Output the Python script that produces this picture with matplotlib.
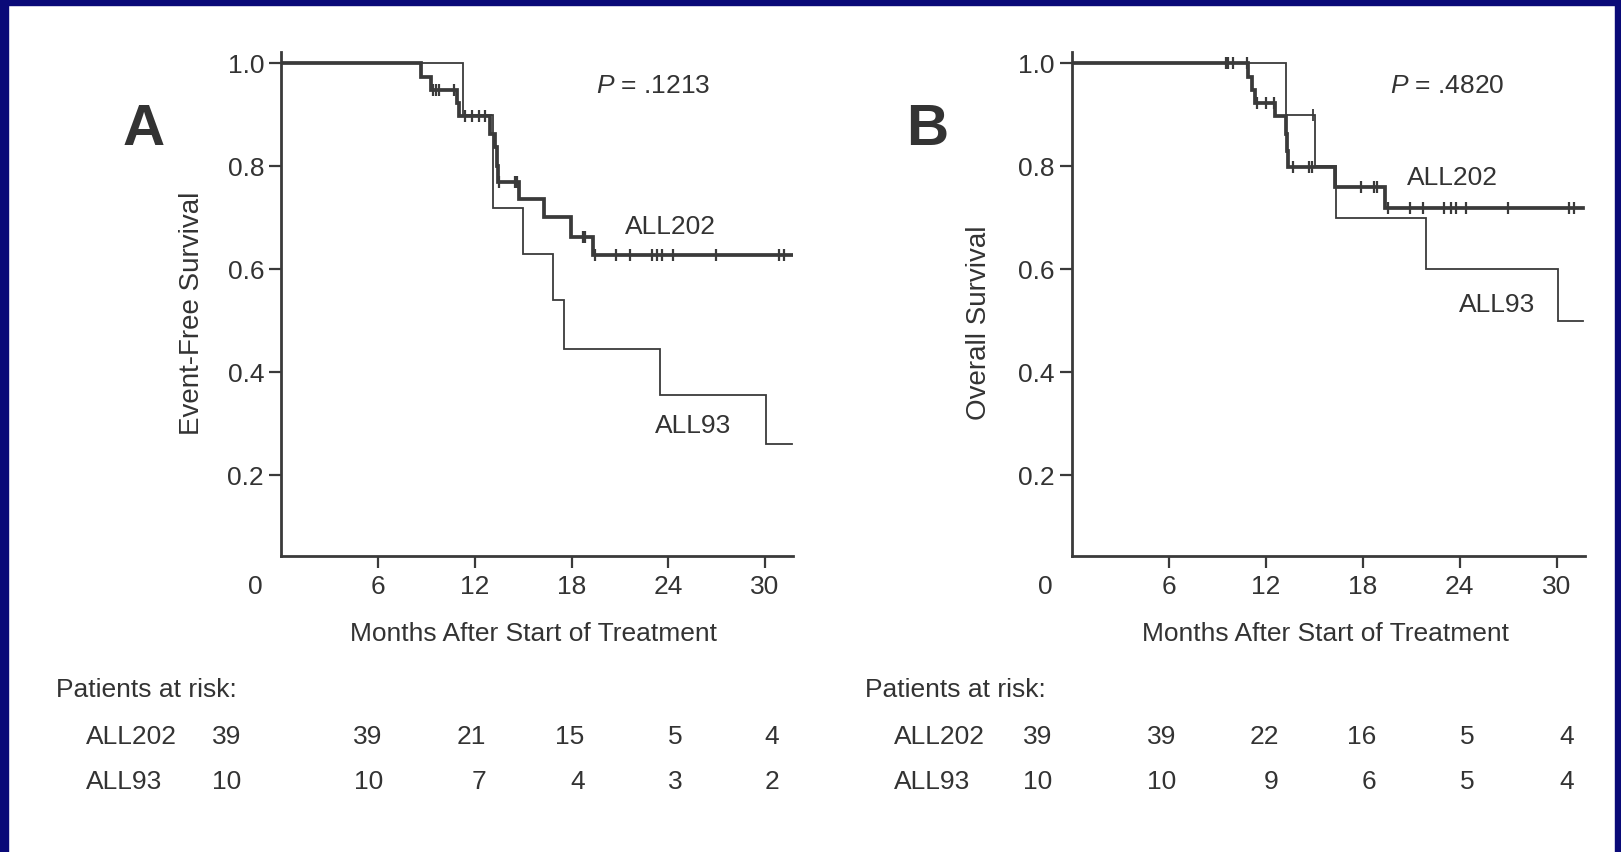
import matplotlib
matplotlib.use('Agg')
import matplotlib.pyplot as plt
from matplotlib.patches import Rectangle

plt.rcParams['font.family'] = ['Liberation Sans', 'DejaVu Sans']
plt.rcParams['mathtext.fontset'] = 'custom'
plt.rcParams['mathtext.it'] = 'Liberation Sans:italic'
plt.rcParams['mathtext.rm'] = 'Liberation Sans'

# ---------------- data ----------------
# Panel A: event-free survival
a202_times = [0, 8.66, 9.28, 10.88, 11.05, 12.93, 13.25, 13.35, 13.45, 14.72, 16.28, 17.98, 19.33]
a202_surv = [1.0, 0.974, 0.949, 0.923, 0.897, 0.862, 0.838, 0.80, 0.77, 0.736, 0.702, 0.663, 0.628]
a202_cens = [9.41, 9.6, 9.81, 10.73, 11.41, 11.84, 12.27, 12.65, 13.5, 14.5, 14.63,
             18.73, 18.86, 19.48, 20.76, 21.61, 23.0, 23.32, 23.6, 24.28, 26.94, 30.85, 31.15]
a93_times = [0, 11.26, 13.14, 15.0, 16.85, 17.54, 23.49, 30.04]
a93_surv = [1.0, 0.9, 0.72, 0.63, 0.54, 0.445, 0.356, 0.26]
a93_cens = []
a_end = 31.65
a_pvalue = "$P$ = .1213"
a_ylabel = "Event-Free Survival"

# Panel B: overall survival
b202_times = [0, 10.9, 11.15, 11.35, 12.6, 13.24, 13.30, 13.4, 16.28, 19.36]
b202_surv = [1.0, 0.974, 0.949, 0.923, 0.897, 0.862, 0.83, 0.798, 0.759, 0.72]
b202_cens = [9.57, 9.68, 10.0, 10.84, 11.44, 12.03, 12.5, 13.68, 14.67, 14.85, 17.93, 18.7, 18.88,
             19.58, 20.9, 21.74, 23.06, 23.44, 23.77, 24.38, 27.0, 30.75, 31.05]
b93_times = [0, 13.27, 15.07, 16.35, 21.9, 30.09]
b93_surv = [1.0, 0.9, 0.8, 0.7, 0.6, 0.5]
b93_cens = [14.96]
b_end = 31.65
b_pvalue = "$P$ = .4820"
b_ylabel = "Overall Survival"

x_ticks = [6, 12, 18, 24, 30]
y_ticks = [0.2, 0.4, 0.6, 0.8, 1.0]
y_ticklabels = ["0.2", "0.4", "0.6", "0.8", "1.0"]
xlabel = "Months After Start of Treatment"
groups = ["ALL202", "ALL93"]

a_risk_202 = ["39", "39", "21", "15", "5", "4"]
a_risk_93 = ["10", "10", "7", "4", "3", "2"]
b_risk_202 = ["39", "39", "22", "16", "5", "4"]
b_risk_93 = ["10", "10", "9", "6", "5", "4"]

# ---------------- layout (pixels) ----------------
W, H, DPI = 1621, 852, 100
TXT = '#333333'
LINE = '#3a3a3a'
FS = 19

fig = plt.figure(figsize=(W / DPI, H / DPI), dpi=DPI)
fig.patch.set_facecolor('white')


def fx(x):
    return x / W


def fy(y):
    return 1 - y / H


def surv_at(times, surv, t):
    s = surv[0]
    for ti, si in zip(times, surv):
        if ti <= t:
            s = si
    return s


def km(ax, times, surv, cens, end, lw, ms, mew):
    xs = list(times) + [end]
    ys = list(surv) + [surv[-1]]
    ax.step(xs, ys, where='post', color=LINE, lw=lw, solid_joinstyle='miter', zorder=3)
    if cens:
        cy = [surv_at(times, surv, c) for c in cens]
        ax.plot(cens, cy, ls='none', marker='|', ms=ms, mew=mew, color=LINE, zorder=4)


def panel(left_px, right_px, letter, letter_xy, times202, surv202, cens202, times93, surv93, cens93,
          end, pval, pval_xy, lab202_xy, lab93_xy, ylabel, ylabel_xy, zero_xy, xlabel_xy):
    top_px, bot_px = 51.7, 555.5
    ax = fig.add_axes([fx(left_px), fy(bot_px), fx(right_px - left_px), (bot_px - top_px) / H])
    ax.set_xlim(0, 31.75)
    ax.set_ylim(0.0445, 1.0225)
    for s in ['top', 'right']:
        ax.spines[s].set_visible(False)
    for s in ['left', 'bottom']:
        ax.spines[s].set_linewidth(2.0)
        ax.spines[s].set_color(LINE)
    ax.set_xticks(x_ticks)
    ax.set_xticklabels([str(v) for v in x_ticks])
    ax.set_yticks(y_ticks)
    ax.set_yticklabels(y_ticklabels)
    ax.tick_params(axis='both', direction='out', length=8.4, width=1.6, color=LINE,
                   labelsize=FS, labelcolor=TXT)
    ax.tick_params(axis='x', pad=6)
    ax.tick_params(axis='y', pad=4)
    ax.patch.set_alpha(0)

    km(ax, times93, surv93, cens93, end, 1.3, 9, 1.3)
    km(ax, times202, surv202, cens202, end, 2.7, 9, 1.6)

    fig.text(fx(letter_xy[0]), fy(letter_xy[1]), letter, fontsize=42, fontweight='bold',
             color=TXT, ha='center', va='center')
    fig.text(fx(pval_xy[0]), fy(pval_xy[1]), pval, fontsize=FS, color=TXT, ha='center', va='center')
    fig.text(fx(lab202_xy[0]), fy(lab202_xy[1]), groups[0], fontsize=FS, color=TXT, ha='center', va='center')
    fig.text(fx(lab93_xy[0]), fy(lab93_xy[1]), groups[1], fontsize=FS, color=TXT, ha='center', va='center')
    fig.text(fx(ylabel_xy[0]), fy(ylabel_xy[1]), ylabel, fontsize=20, color=TXT, ha='center',
             va='center', rotation=90)
    fig.text(fx(zero_xy[0]), fy(zero_xy[1]), "0", fontsize=FS, color=TXT, ha='center', va='center')
    fig.text(fx(xlabel_xy[0]), fy(xlabel_xy[1]), xlabel, fontsize=FS, color=TXT, ha='center', va='center')
    return ax


panel(281.3, 793.3, "A", (144, 130), a202_times, a202_surv, a202_cens, a93_times, a93_surv, a93_cens,
      a_end, a_pvalue, (653, 86), (670, 227), (693, 426), a_ylabel, (191.7, 313), (255, 587), (533, 634))
panel(1071.5, 1585, "B", (927, 130), b202_times, b202_surv, b202_cens, b93_times, b93_surv, b93_cens,
      b_end, b_pvalue, (1447, 86), (1452, 178), (1497, 305), b_ylabel, (979.3, 323), (1045, 587), (1325, 634))


def risk_table(head_x, name_x, col_right, r202, r93):
    fig.text(fx(head_x), fy(690), "Patients at risk:", fontsize=FS, color=TXT, ha='left', va='center')
    fig.text(fx(name_x), fy(736.5), groups[0], fontsize=FS, color=TXT, ha='left', va='center')
    fig.text(fx(name_x), fy(782), groups[1], fontsize=FS, color=TXT, ha='left', va='center')
    for xr, v1, v2 in zip(col_right, r202, r93):
        fig.text(fx(xr), fy(736.5), v1, fontsize=FS, color=TXT, ha='right', va='center')
        fig.text(fx(xr), fy(782), v2, fontsize=FS, color=TXT, ha='right', va='center')


risk_table(56.5, 86.3, [241.6, 382.8, 486.4, 584.7, 682.5, 779.3], a_risk_202, a_risk_93)
risk_table(865, 894, [1052.4, 1176, 1278.7, 1375.8, 1474.9, 1573.5], b_risk_202, b_risk_93)

# navy frame
NAVY = '#0a0a78'
fig.patches.append(Rectangle((0, 0), fx(8), 1, transform=fig.transFigure, color=NAVY, zorder=10))
fig.patches.append(Rectangle((0, fy(5)), 1, fx(5) * W / H, transform=fig.transFigure, color=NAVY, zorder=10))
fig.patches.append(Rectangle((fx(W - 6), 0), fx(6), 1, transform=fig.transFigure, color=NAVY, zorder=10))

fig.savefig('out.png', dpi=DPI, facecolor='white')
